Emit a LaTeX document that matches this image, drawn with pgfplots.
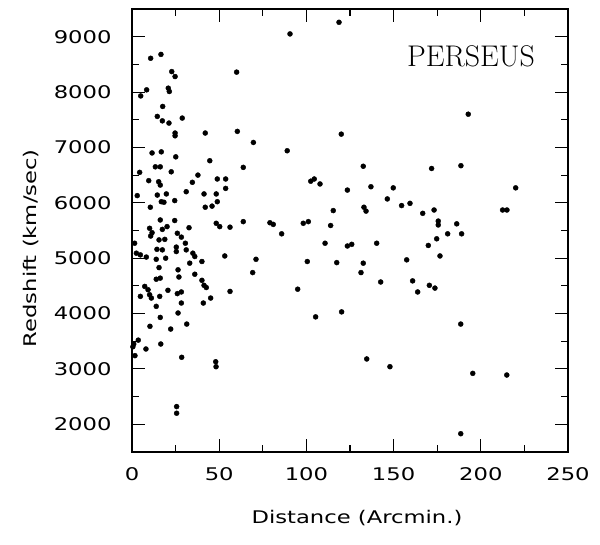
\documentclass[border=0pt]{standalone}
\usepackage{fontspec}
\usepackage{pgfplots}
\pgfplotsset{compat=1.18}
\newfontfamily\hershey[FakeStretch=1.3]{DejaVu Sans}
\tikzset{lbl/.style={font=\hershey\fontsize{17.5}{18}\selectfont}}

\begin{document}
\begin{tikzpicture}
\begin{axis}[
  scale only axis, width=436bp, height=443bp,
  xmin=0, xmax=250, ymin=1500, ymax=9500,
  xtick={0,50,...,250}, ytick={2000,3000,...,9000},
  minor x tick num=1, minor y tick num=1,
  tick align=inside, major tick length=13bp, minor tick length=7bp,
  axis line style={line width=1.5bp,black}, tick style={line width=1.1bp,black},
  /pgf/number format/assume math mode=true,
  /pgf/number format/1000 sep={},
  ticklabel style={lbl},
  yticklabel style={xshift=-17bp},
  xticklabel style={yshift=-12bp},
  xlabel={Distance (Arcmin.)}, ylabel={Redshift (km/sec)},
  label style={lbl},
  xlabel style={at={(axis description cs:0.516,0)},anchor=center,yshift=-66bp},
  ylabel style={at={(axis description cs:0,0.46)},anchor=center,rotate=0,yshift=101bp},
  clip=false,
]
\addplot[only marks, mark=*, mark size=2.5bp, black] coordinates {
 (10.7,8610) (16.6,8680) (22.8,8370) (24.7,8280) (60.0,8360) (8.4,8040) (5.0,7930)
 (20.8,8070) (21.4,8010) (17.6,7740) (14.5,7560) (17.4,7480) (21.2,7440) (28.8,7530)
 (24.7,7260) (24.7,7210) (42.0,7260) (60.4,7290) (69.6,7090)
 (90.6,9050) (118.7,9260) (120.0,7240) (89.0,6940) (132.6,6660) (102.5,6390) (104.5,6430)
 (107.8,6340) (123.5,6230) (137.0,6290) (149.8,6270) (146.4,6070) (154.6,5950) (159.4,5990)
 (115.4,5860) (133.0,5920) (134.2,5850) (79.1,5640) (81.0,5610) (98.2,5630) (101.1,5660)
 (113.9,5590) (85.8,5440) (110.7,5270) (123.5,5220) (126.0,5250) (140.3,5270) (100.5,4940)
 (117.4,4920) (132.6,4910) (157.5,4970) (131.3,4740) (142.6,4570) (160.9,4590) (163.8,4390)
 (95.0,4440) (120.2,4030) (105.3,3940) (134.6,3180) (147.9,3040)
 (192.8,7600) (171.8,6620) (188.6,6670) (220.0,6270) (166.7,5810) (173.2,5870) (175.6,5670)
 (175.6,5600) (186.2,5620) (212.5,5870) (215.0,5870) (181.0,5440) (189.0,5440) (174.7,5350)
 (169.9,5230) (176.6,5040) (170.5,4510) (173.7,4460) (188.5,3810) (195.4,2920) (214.9,2890)
 (188.5,1830)
 (63.8,5660) (56.2,5560) (71.1,4980) (69.2,4740) (56.2,4400) (45.1,4280) (40.9,4190)
 (31.4,3810) (22.2,3720) (28.5,3210) (48.0,3130) (48.2,3040) (25.6,2320) (25.6,2200)
 (53.2,5040) (53.7,6430) (53.7,6260) (48.9,6430) (44.6,6760) (63.8,6640) (41.3,6160)
 (48.3,6160) (42.0,5920) (45.9,5940) (48.9,6020) (37.8,6500) (34.6,6370) (31.1,6200)
 (25.1,6830) (24.5,6040) (24.5,5680) (32.7,5550) (48.3,5630) (50.3,5570) (40.1,4940)
 (40.1,4600) (41.3,4510) (42.6,4470) (36.0,4710) (31.1,5150) (34.9,5090) (36.0,5030)
 (33.1,4910) (30.6,5270) (25.4,5200) (25.4,5120) (26.0,5450) (28.3,5380) (17.4,5520)
 (20.1,5570) (10.1,5540) (11.5,5460) (10.7,5400) (16.2,5690) (15.5,5330) (18.8,5340)
 (1.5,5270) (2.5,5090) (4.8,5060) (8.2,5020) (14.3,5160) (17.4,5150) (13.9,4980)
 (19.3,5000) (15.5,4830) (26.4,4790) (13.9,4620) (16.2,4640) (26.9,4660) (7.3,4490)
 (9.2,4430) (10.1,4340) (11.1,4280) (4.8,4310) (15.9,4310) (20.6,4420) (26.0,4360)
 (28.3,4390) (13.9,4130) (28.3,4190) (16.2,3930) (26.4,4010) (11.5,6900) (16.8,6920)
 (13.4,6650) (16.2,6650) (4.4,6550) (22.5,6560) (9.6,6400) (15.3,6380) (16.2,6320)
 (3.0,6130) (14.5,6140) (19.7,6160) (16.8,6020) (18.3,6010) (10.5,5920) (10.3,3770)
 (1.0,3450) (3.6,3520) (0.5,3400) (8.0,3360) (16.5,3450) (1.7,3240)
};
\node[font=\fontsize{30}{30}\selectfont] at (axis cs:194.4,8650) {PERSEUS};
\end{axis}
\pgfresetboundingbox
\useasboundingbox ([xshift=-132bp,yshift=-93bp]current axis.south west)
  rectangle ([xshift=32bp,yshift=9bp]current axis.north east);
\end{tikzpicture}
\end{document}
